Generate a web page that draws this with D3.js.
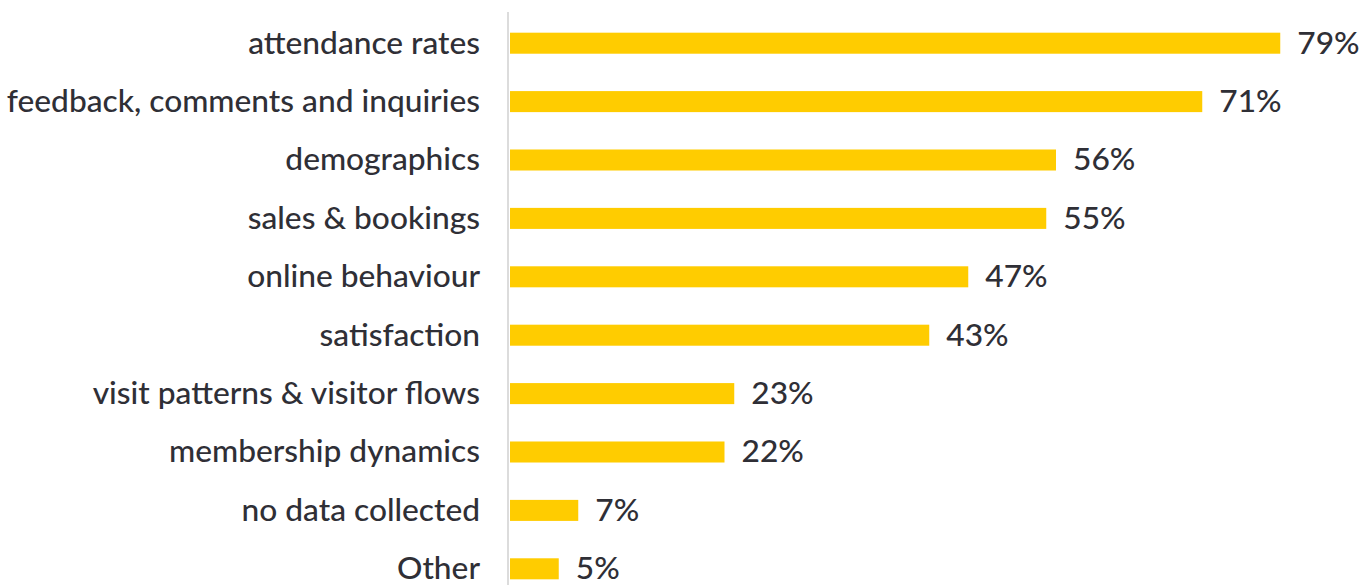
<!DOCTYPE html>
<html>
<head>
<meta charset="utf-8">
<style>
  body { margin: 0; background: #fff; }
  text { font-family: Lato, sans-serif; fill: #2f2f36; }
</style>
</head>
<body>
<svg width="1363" height="585"></svg>
<script src="https://cdn.jsdelivr.net/npm/d3@7"></script>
<script>
var categories = ["attendance rates", "feedback, comments and inquiries", "demographics",
  "sales & bookings", "online behaviour", "satisfaction", "visit patterns & visitor flows",
  "membership dynamics", "no data collected", "Other"];
var values = [79, 71, 56, 55, 47, 43, 23, 22, 7, 5];

var svg = d3.select("svg"),
    left = 510;

var x = d3.scaleLinear().domain([0, 100]).range([left, left + 975]);
var y = d3.scaleBand().domain(categories).range([14, 598]).paddingInner(0.64).paddingOuter(0.32);

var data = categories.map(function(c, i) { return {cat: c, val: values[i]}; });

// bars
svg.selectAll("rect.bar")
    .data(data)
  .enter().append("rect")
    .attr("class", "bar")
    .attr("x", x(0))
    .attr("y", function(d) { return y(d.cat); })
    .attr("width", function(d) { return x(d.val) - x(0); })
    .attr("height", y.bandwidth())
    .attr("fill", "#FFCC00");

// vertical axis line
svg.append("line")
    .attr("x1", left - 2).attr("x2", left - 2)
    .attr("y1", 12).attr("y2", 585)
    .attr("stroke", "#d0d0d0")
    .attr("stroke-width", 1.5);

// category labels
svg.selectAll("text.cat")
    .data(data)
  .enter().append("text")
    .attr("class", "cat")
    .attr("x", left - 30)
    .attr("y", function(d) { return y(d.cat) + y.bandwidth() / 2; })
    .attr("dy", "0.33em")
    .style("font-size", "31.7px")
    .style("font-weight", 500)
    .attr("text-anchor", "end")
    .text(function(d) { return d.cat; });

// value labels
svg.selectAll("text.val")
    .data(data)
  .enter().append("text")
    .attr("class", "val")
    .attr("x", function(d) { return x(d.val) + 17; })
    .attr("y", function(d) { return y(d.cat) + y.bandwidth() / 2; })
    .attr("dy", "0.33em")
    .style("font-size", "31.7px")
    .style("font-weight", 500)
    .text(function(d) { return d.val + "%"; });
</script>
</body>
</html>
